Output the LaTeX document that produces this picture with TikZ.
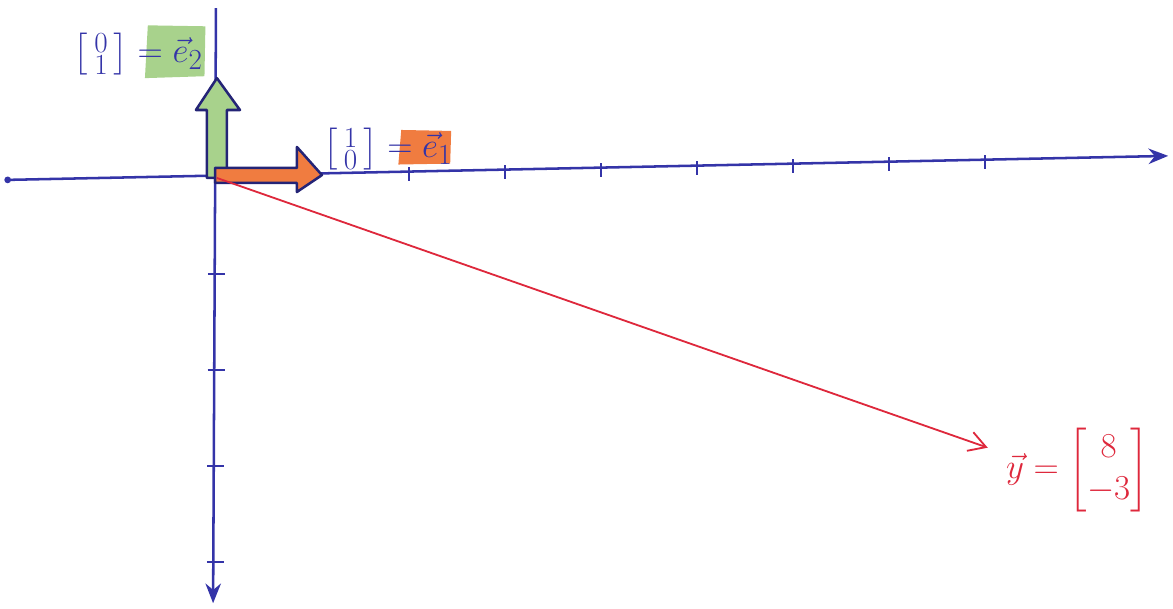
\documentclass[tikz,border=0pt]{standalone}
\usepackage{amsmath}
\usepackage{tikz}
\usetikzlibrary{arrows.meta, positioning, calc}
\definecolor{PenBlue}{RGB}{52, 52, 168}
\definecolor{PenRed}{RGB}{222, 40, 60}
\definecolor{MarkGreen}{RGB}{168, 210, 140}
\definecolor{MarkOrange}{RGB}{240, 124, 64}

\begin{document}
\begin{tikzpicture}[
    x=2.4cm, y=2.4cm,
    axis/.style={draw=PenBlue, line width=1.8pt, -{Stealth[length=14pt, width=11pt]}},
    tickmark/.style={draw=PenBlue, line width=1pt},
    basis/.style={draw=PenBlue!70!black, line width=1.8pt, line join=round},
    vecline/.style={draw=PenRed, line width=1.3pt, -{Straight Barb[length=12pt, width=14pt]}},
    lbl/.style={inner sep=0pt, font=\Huge}
]
\useasboundingbox (-2.26,-4.49) rectangle (9.96,1.854);

% Axes
\coordinate (o) at (0,0);
\coordinate (xstart) at (-2.18,-0.02);
\coordinate (xend) at (9.91,0.23);
\coordinate (ystart) at (-0.01,1.77);
\coordinate (yend) at (-0.04,-4.43);
\fill[PenBlue] (xstart) circle (2.4pt);
\draw[axis] (xstart) -- (xend);
\draw[axis] (ystart) -- (yend);

% Ticks
\foreach \i in {2,...,8}
    \draw[tickmark] (\i,{0.0206*\i-0.07}) -- (\i,{0.0206*\i+0.07});
\foreach \j in {1,...,4}
    \draw[tickmark] ({-0.09-0.004*\j},-\j) -- ({0.09-0.004*\j},-\j);

% Basis vectors
\draw[basis, fill=MarkGreen] (-0.104,0) -- (-0.104,0.708) -- (-0.219,0.708)
    -- (0,1.04) -- (0.24,0.708) -- (0.104,0.708) -- (0.104,0) -- cycle;
\draw[basis, fill=MarkOrange] (-0.02,0.104) -- (0.833,0.104) -- (0.833,0.323)
    -- (1.094,0.03) -- (0.833,-0.146) -- (0.833,-0.052) -- (-0.02,-0.052) -- cycle;
\coordinate (e1tip) at (1.094,0.03);
\coordinate (e2tip) at (0,1.04);

% Vector y
\coordinate (ytip) at (8.03,-2.81);
\draw[vecline] (o) -- (ytip);

% Labels
\fill[MarkGreen] (-0.75,1.04) -- (-0.13,1.06) -- (-0.12,1.58) -- (-0.72,1.59) -- cycle;
\node[lbl, text=PenBlue] (e2lbl) at (-0.82,1.29)
    {$\left[\begin{smallmatrix}0\\1\end{smallmatrix}\right]=\vec{e}_2$};
\fill[MarkOrange] (1.89,0.14) -- (2.43,0.15) -- (2.44,0.49) -- (1.92,0.5) -- cycle;
\node[lbl, text=PenBlue] (e1lbl) at (1.78,0.30)
    {$\left[\begin{smallmatrix}1\\0\end{smallmatrix}\right]=\vec{e}_1$};
\node[lbl, text=PenRed, right=0.45cm of ytip, yshift=-0.55cm] (ylbl)
    {$\vec{y}=\begin{bmatrix}8\\-3\end{bmatrix}$};

\end{tikzpicture}
\end{document}
